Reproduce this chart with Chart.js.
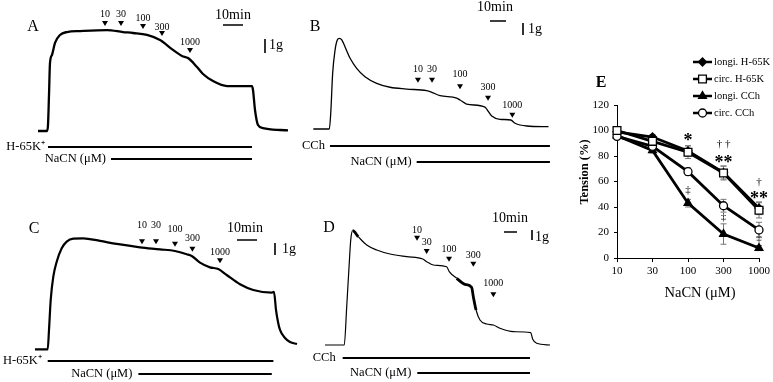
<!DOCTYPE html>
<html>
<head>
<meta charset="utf-8">
<script src="https://cdn.jsdelivr.net/npm/chart.js@4.4.0/dist/chart.umd.min.js"></script>
<style>
  html, body { margin: 0; padding: 0; background: #fff; }
  #wrap { position: relative; width: 773px; height: 382px; overflow: hidden; }
  #wrap canvas { position: absolute; }
</style>
</head>
<body>
<div id="wrap">
  <canvas id="traceA" width="773" height="382" style="left:0;top:0"></canvas>
  <canvas id="traceB" width="773" height="382" style="left:0;top:0"></canvas>
  <canvas id="traceC" width="773" height="382" style="left:0;top:0"></canvas>
  <canvas id="traceD" width="773" height="382" style="left:0;top:0"></canvas>
  <canvas id="chartE" width="213" height="382" style="left:560px;top:0"></canvas>
</div>
<script>
// Tension tracings (time in min, tension in g) + concentration-response (E)
const SERIF = '"Liberation Serif", "Times New Roman", serif';
const INK = '#000';

// --- tracings A-D : [min, g]
const traceA = [[0,0],[4.5,0],[5,0.42],[5.5,2.57],[6,4.86],[7,5.43],[8.5,6.29],[11,6.86],[14.5,7.07],[21,7.14],[34.5,7.21],[42.5,7.07],[47.5,7.0],[54.5,6.86],[61,6.5],[62.5,6.36],[67.5,5.79],[72,5.36],[75,5.21],[79.5,4.57],[82.5,4.07],[87.5,3.57],[94.5,3.21],[107,3.21],[107.5,2.93],[108.5,1.5],[110,0.43],[112.5,0.21],[121,0.07],[125,0.05]];
const traceB = [[0,0],[10,0],[10.9,1.31],[12.1,4.64],[13.6,6.58],[15,7.42],[16.3,7.56],[17.8,7.42],[19.8,6.86],[23,5.89],[27.1,5.06],[32.3,4.36],[39.6,3.81],[48,3.48],[58.4,3.33],[70.8,3.19],[74,3.06],[79.2,2.78],[89.6,2.58],[91.7,2.42],[95.8,2.08],[107.3,1.83],[108.8,1.58],[111.5,1.08],[116.7,0.81],[123.4,0.75],[126.1,0.48],[133.4,0.25],[147,0.19]];
const traceC = [[0,0],[6.35,0],[7,1.61],[7.85,4.11],[9.15,6.05],[10.85,7.3],[13.35,8.42],[15.85,8.97],[19.15,9.22],[24.15,9.25],[32.5,9.03],[40.85,8.78],[52.5,8.5],[62.5,8.33],[70,8.19],[75.85,7.92],[78.35,7.78],[82.5,7.22],[87.5,6.83],[91.65,6.69],[95.85,6.19],[102.5,5.42],[109.15,4.94],[118.35,4.72],[119.5,4.78],[120.5,3.28],[121.5,2.28],[122.5,1.61],[125,0.94],[127.5,0.61],[131,0.44]];
const traceD = [[0,0],[14.8,0],[16.7,3.83],[18.5,7.83],[19.8,10.5],[21.3,11.43],[25.6,10.83],[32.1,10],[39.8,9.5],[50,9.1],[62.8,8.83],[75.2,8.6],[78.2,8.33],[83.3,8.0],[93.6,7.83],[95.6,7.33],[101.3,6.67],[107.7,6.07],[112.8,5.77],[114.1,4.83],[116.2,3.5],[119.2,2.5],[124.4,2.1],[129.5,2.0],[134.6,1.67],[144.9,1.33],[158.2,1.23],[159.8,0.57],[162.8,0.17],[173.1,0]];

// NaCN additions (uM), time of addition (min) and level of arrow tip (g)
const doseLabels = ['10', '30', '100', '300', '1000'];
const doseTimeA = [33.5, 41.5, 52.5, 62, 76];
const doseTipA = [7.5, 7.5, 7.29, 6.79, 5.57];
const doseTimeB = [65.4, 74.2, 91.7, 109.2, 124.4];
const doseTipB = [3.86, 3.86, 3.31, 2.36, 0.94];
const doseTimeC = [53.5, 60.5, 70, 78.7, 92.5];
const doseTipC = [8.75, 8.75, 8.55, 8.13, 7.17];
const doseTimeD = [70.8, 78.2, 95.4, 114.1, 129.5];
const doseTipD = [10.43, 9.1, 8.33, 7.83, 4.77];

// treatment periods (min)
const bathA = [5, 107], nacnA = [36.5, 107];
const cchB = [10.4, 147.9], nacnB = [64.6, 147.9];
const bathC = [6.35, 119.2], nacnC = [51.7, 118.4];
const cchD = [13.6, 157.7], nacnD = [71, 157.7];

// --- E : tension (%) vs NaCN
const doseCats = ['10', '30', '100', '300', '1000'];
const longiK = [99, 94.9, 84, 67, 39];
const circK = [100, 91.5, 83, 66.7, 37.4];
const longiCCh = [96, 84.4, 43, 18.8, 7.8];
const circCCh = [95.4, 87.6, 67.7, 41, 22];
const errLongiK = [1, 2, 4, 5, 5];
const errCircK = [1, 2, 5, 5.5, 6];
const errLongiCCh = [1, 2, 3, 8, 2];
const errCircCCh = [1, 2, 3, 5, 6];
const markCats = ['100', '300', '300', '1000', '1000', '100', '300', '1000'];
const markVals = [95, 89.4, 77.6, 59.6, 49.4, 53.3, 32.2, 15.7];
const markText = ['*', '† †', '**', '†', '**', '‡', '‡', '‡'];

// panel layout (page pixels)
const panels = [
  { id: 'traceA', letter: 'A', letterAt: [33, 27], trace: traceA, origin: [38, 131], ppm: 2, ppg: 14, lw: 2.3,
    times: doseTimeA, tips: doseTipA, lift: [12, 12, 11, 9, 11],
    minBar: [223, 25], minText: [233, 15], gBar: [265, 39], gText: [269, 45],
    rows: [{ label: 'H-65K⁺', span: bathA, y: 147, gap: 3 }, { label: 'NaCN (μM)', span: nacnA, y: 159, gap: 5 }] },
  { id: 'traceB', letter: 'B', letterAt: [315, 27], trace: traceB, origin: [313.3, 129], ppm: 1.6, ppg: 12, lw: 1.3,
    times: doseTimeB, tips: doseTipB, lift: [13.7, 13.7, 15, 13.7, 12.7],
    minBar: [490, 21], minText: [495, 7], gBar: [523, 23], gText: [528, 29],
    rows: [{ label: 'CCh', span: cchB, y: 146, gap: 5 }, { label: 'NaCN (μM)', span: nacnB, y: 162, gap: 5 }] },
  { id: 'traceC', letter: 'C', letterAt: [34, 229], trace: traceC, origin: [35, 349.3], ppm: 2, ppg: 12, lw: 2.2,
    times: doseTimeC, tips: doseTipC, lift: [19, 19, 17.4, 13.4, 10.7],
    minBar: [237, 240], minText: [245, 228], gBar: [275, 243], gText: [282, 249],
    rows: [{ label: 'H-65K⁺', span: bathC, y: 361, gap: 6 }, { label: 'NaCN (μM)', span: nacnC, y: 374, gap: 6 }] },
  { id: 'traceD', letter: 'D', letterAt: [329, 228], trace: traceD, origin: [325, 345], ppm: 1.3, ppg: 10, lw: 1.2,
    thick: [[21.3, 32], [101, 119]],
    times: doseTimeD, tips: doseTipD, lift: [10.7, 11.7, 12.4, 11.7, 14],
    minBar: [504, 232], minText: [510, 218], gBar: [532, 230], gText: [535, 237],
    rows: [{ label: 'CCh', span: cchD, y: 358, gap: 7 }, { label: 'NaCN (μM)', span: nacnD, y: 373, gap: 6 }] }
];

function traceDeco(p) {
  return {
    id: 'traceDeco' + p.letter,
    afterDatasetsDraw(chart) {
      const ctx = chart.ctx, xs = chart.scales.x, ys = chart.scales.y;
      ctx.save();
      ctx.fillStyle = INK; ctx.strokeStyle = INK;
      ctx.textAlign = 'center'; ctx.textBaseline = 'middle';
      ctx.font = '16px ' + SERIF;
      ctx.fillText(p.letter, p.letterAt[0], p.letterAt[1]);
      // NaCN arrows
      ctx.font = '10px ' + SERIF;
      p.times.forEach((t, i) => {
        const x = xs.getPixelForValue(t), y = ys.getPixelForValue(p.tips[i]);
        ctx.beginPath();
        ctx.moveTo(x - 3, y - 5); ctx.lineTo(x + 3, y - 5); ctx.lineTo(x, y);
        ctx.closePath(); ctx.fill();
        ctx.fillText(doseLabels[i], x, y - p.lift[i]);
      });
      // calibration: 10 min / 1 g
      const w10 = xs.getPixelForValue(10) - xs.getPixelForValue(0);
      const h1 = ys.getPixelForValue(0) - ys.getPixelForValue(1);
      ctx.lineWidth = 1.6;
      ctx.beginPath();
      ctx.moveTo(p.minBar[0], p.minBar[1]); ctx.lineTo(p.minBar[0] + w10, p.minBar[1]);
      ctx.moveTo(p.gBar[0], p.gBar[1]); ctx.lineTo(p.gBar[0], p.gBar[1] + h1);
      ctx.stroke();
      ctx.font = '14px ' + SERIF;
      ctx.fillText('10min', p.minText[0], p.minText[1]);
      ctx.textAlign = 'left';
      ctx.fillText('1g', p.gText[0], p.gText[1]);
      // treatment bars
      ctx.font = '12.5px ' + SERIF; ctx.textAlign = 'right'; ctx.lineWidth = 2;
      p.rows.forEach(r => {
        const x0 = xs.getPixelForValue(r.span[0]), x1 = xs.getPixelForValue(r.span[1]);
        ctx.beginPath(); ctx.moveTo(x0, r.y); ctx.lineTo(x1, r.y); ctx.stroke();
        ctx.fillText(r.label, x0 - r.gap, r.y);
      });
      ctx.restore();
    }
  };
}

panels.forEach(p => {
  const thick = p.thick || [];
  new Chart(document.getElementById(p.id), {
    type: 'line',
    data: { datasets: [{
      data: p.trace.map(d => ({ x: d[0], y: d[1] })), borderColor: INK, borderWidth: p.lw, pointRadius: 0,
      cubicInterpolationMode: 'monotone', fill: false,
      segment: { borderWidth: c => thick.some(r => c.p0.parsed.x >= r[0] && c.p1.parsed.x <= r[1]) ? 2.8 : p.lw }
    }] },
    options: {
      responsive: false, animation: false, events: [],
      layout: { padding: 0 },
      plugins: { legend: { display: false }, tooltip: { enabled: false } },
      scales: {
        x: { type: 'linear', display: false, min: -p.origin[0] / p.ppm, max: (773 - p.origin[0]) / p.ppm },
        y: { type: 'linear', display: false, min: -(382 - p.origin[1]) / p.ppg, max: p.origin[1] / p.ppg }
      }
    },
    plugins: [traceDeco(p)]
  });
});

// ---- panel E
const errSets = [errLongiK, errCircK, errLongiCCh, errCircCCh];

const errorBars = {
  id: 'errorBars',
  beforeDatasetsDraw(chart) {
    const ctx = chart.ctx, ys = chart.scales.y;
    ctx.save();
    ctx.strokeStyle = '#777'; ctx.lineWidth = 1;
    chart.data.datasets.forEach((ds, di) => {
      chart.getDatasetMeta(di).data.forEach((pt, i) => {
        const v = ds.data[i], e = errSets[di][i];
        const yt = ys.getPixelForValue(v + e), yb = ys.getPixelForValue(v - e);
        ctx.beginPath();
        ctx.moveTo(pt.x, yt); ctx.lineTo(pt.x, yb);
        ctx.moveTo(pt.x - 3, yt); ctx.lineTo(pt.x + 3, yt);
        ctx.moveTo(pt.x - 3, yb); ctx.lineTo(pt.x + 3, yb);
        ctx.stroke();
      });
    });
    ctx.restore();
  }
};

const sigMarks = {
  id: 'sigMarks',
  afterDatasetsDraw(chart) {
    const ctx = chart.ctx, xs = chart.scales.x, ys = chart.scales.y;
    ctx.save();
    ctx.fillStyle = INK; ctx.textAlign = 'center'; ctx.textBaseline = 'middle';
    markText.forEach((txt, i) => {
      const x = xs.getPixelForValue(doseCats.indexOf(markCats[i]));
      const y = ys.getPixelForValue(markVals[i]);
      const star = txt.indexOf('*') >= 0;
      ctx.font = (star ? 'bold 18px ' : '11px ') + SERIF;
      ctx.fillText(txt, x, star ? y + 4 : y);
    });
    // panel letter and axis titles
    ctx.font = 'bold 16px ' + SERIF;
    ctx.fillText('E', 41, 83);
    ctx.font = '14.5px ' + SERIF;
    ctx.fillText('NaCN (μM)', 140, 293);
    ctx.translate(25, 172);
    ctx.rotate(-Math.PI / 2);
    ctx.font = 'bold 12.5px ' + SERIF;
    ctx.fillText('Tension (%)', 0, 0);
    ctx.restore();
  }
};

const legendE = {
  id: 'legendE',
  afterDraw(chart) {
    const ctx = chart.ctx;
    ctx.save();
    chart.data.datasets.forEach((ds, i) => {
      const y = 62 + i * 17;
      ctx.strokeStyle = INK; ctx.lineWidth = 2.5;
      ctx.beginPath(); ctx.moveTo(133, y); ctx.lineTo(152, y); ctx.stroke();
      ctx.fillStyle = ds.pointBackgroundColor; ctx.lineWidth = ds.pointBorderWidth;
      Chart.helpers.drawPoint(ctx, { pointStyle: ds.pointStyle, radius: ds.pointRadius, rotation: 0, borderWidth: ds.pointBorderWidth }, 142.5, y);
      ctx.fillStyle = INK; ctx.font = '10.5px ' + SERIF;
      ctx.textAlign = 'left'; ctx.textBaseline = 'middle';
      ctx.fillText(ds.label, 154, y);
    });
    ctx.restore();
  }
};

function series(label, data, style, radius, bg, order) {
  return { label, data, order, borderColor: INK, borderWidth: 2.8, pointStyle: style, pointRadius: radius,
    pointBackgroundColor: bg, pointBorderColor: INK, pointBorderWidth: 1.3, fill: false, tension: 0 };
}

new Chart(document.getElementById('chartE'), {
  type: 'line',
  data: {
    labels: doseCats,
    datasets: [
      series('longi. H-65K', longiK, 'rectRot', 4, INK, 3),
      series('circ. H-65K', circK, 'rect', 5.5, '#fff', 0),
      series('longi. CCh', longiCCh, 'triangle', 4.5, INK, 2),
      series('circ. CCh', circCCh, 'circle', 4, '#fff', 1)
    ]
  },
  options: {
    responsive: false, animation: false, events: [],
    layout: { padding: { left: 18, right: 13, top: 105, bottom: 80 } },
    plugins: { legend: { display: false }, tooltip: { enabled: false } },
    scales: {
      x: {
        type: 'category', offset: false,
        grid: { drawOnChartArea: false, drawTicks: true, tickLength: 4, color: INK },
        border: { display: true, color: INK, width: 1 },
        ticks: { color: INK, font: { family: SERIF, size: 11 }, padding: 3, maxRotation: 0, autoSkip: false },
        afterFit: s => { s.height = 44; }
      },
      y: {
        min: 0, max: 120,
        grid: { drawOnChartArea: false, drawTicks: true, tickLength: 3, color: INK },
        border: { display: true, color: INK, width: 1 },
        ticks: { stepSize: 20, color: INK, font: { family: SERIF, size: 11 }, padding: 5 },
        afterFit: s => { s.width = 39; }
      }
    }
  },
  plugins: [errorBars, sigMarks, legendE]
});
</script>
</body>
</html>
